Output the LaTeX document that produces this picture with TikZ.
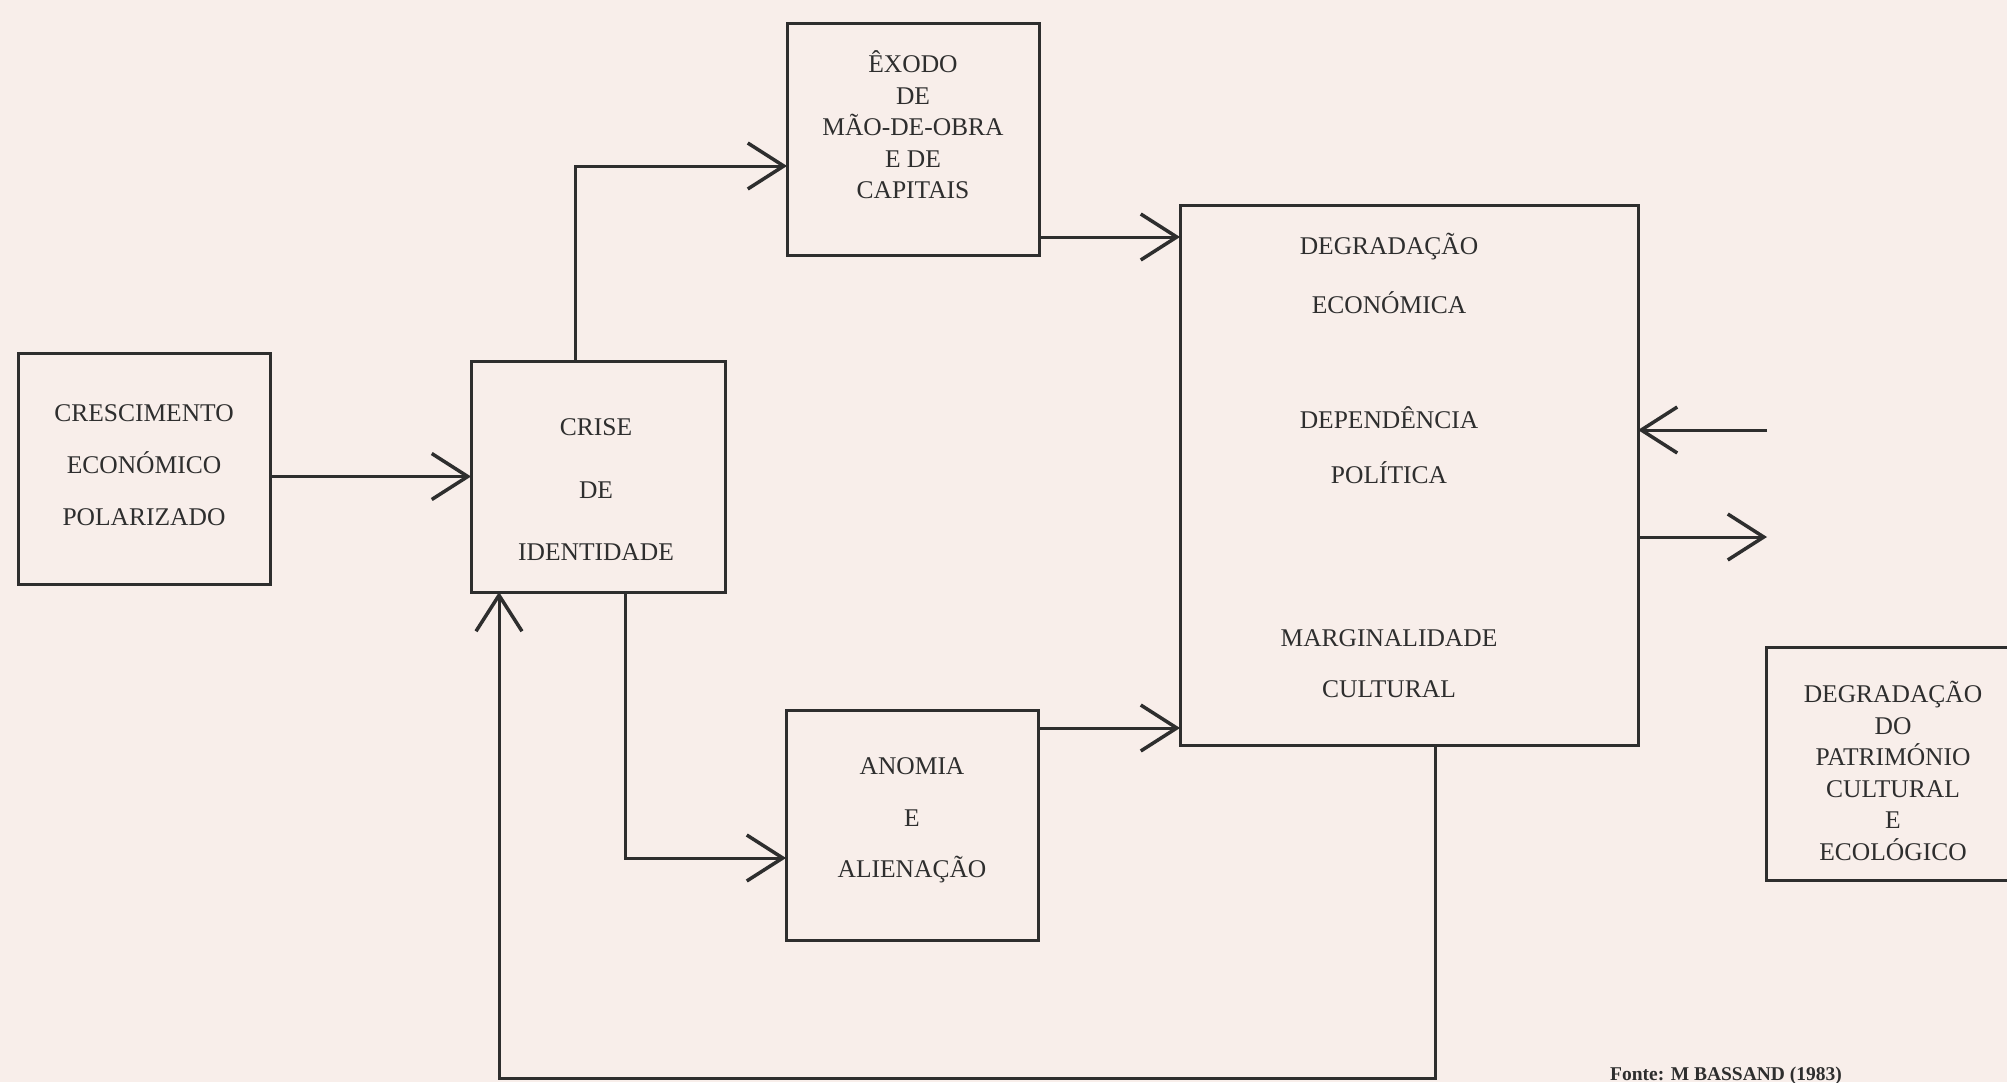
\documentclass[tikz,border=0pt]{standalone}
\usepackage{fontspec}
\setmainfont{Liberation Serif}
\usetikzlibrary{arrows.meta,calc}
\definecolor{paper}{HTML}{F8EEEA}
\definecolor{ink}{HTML}{2E2E2E}
\begin{document}
\begin{tikzpicture}[x=1pt,y=-1pt,
  box/.style={draw=ink, line width=3pt, inner sep=0pt, outer sep=0pt, rectangle},
  lbl/.style={anchor=base, inner sep=0pt, text=ink, font=\fontsize{25.5}{30}\selectfont},
  link/.style={draw=ink, line width=3pt, -{Straight Barb[length=36pt,width=46pt,line width=3.5pt]}}
]
\fill[paper] (0,0) rectangle (2007,1082);
\useasboundingbox (0,0) rectangle (2007,1082);

% boxes
\node[box, minimum width=252pt, minimum height=231pt] (cres) at (144,468.5) {};
\node[box, minimum width=254pt, minimum height=231pt] (crise) at (598,476.5) {};
\node[box, minimum width=252pt, minimum height=232pt] (exodo) at (913,139) {};
\node[box, minimum width=458pt, minimum height=540pt] (degr) at (1409,475) {};
\node[box, minimum width=252pt, minimum height=230pt] (anom) at (912,825) {};
\node[box, minimum width=264pt, minimum height=233pt] (patr) at (1898,763.5) {};

% labels
\foreach \t [count=\i] in {CRESCIMENTO,ECONÓMICO,POLARIZADO}
  \node[lbl] (cresT\i) at (144,{421.5+(\i-1)*52}) {\t};
\foreach \t [count=\i] in {CRISE,DE,IDENTIDADE}
  \node[lbl] (criseT\i) at (596,{435.5+(\i-1)*62.5}) {\t};
\foreach \t [count=\i] in {ÊXODO,DE,MÃO-DE-OBRA,E DE,CAPITAIS}
  \node[lbl] (exodoT\i) at (913,{72.5+(\i-1)*31.5}) {\t};
\foreach \t/\yy [count=\i] in {DEGRADAÇÃO/254.5,ECONÓMICA/313.5,DEPENDÊNCIA/428.5,POLÍTICA/483.5,MARGINALIDADE/646.5,CULTURAL/697.5}
  \node[lbl] (degrT\i) at (1389,\yy) {\t};
\foreach \t/\yy [count=\i] in {ANOMIA/774.5,E/826.5,ALIENAÇÃO/877.5}
  \node[lbl] (anomT\i) at (912,\yy) {\t};
\foreach \t [count=\i] in {DEGRADAÇÃO,DO,PATRIMÓNIO,CULTURAL,E,ECOLÓGICO}
  \node[lbl] (patrT\i) at (1893,{702.5+(\i-1)*31.5}) {\t};

\node[anchor=base, inner sep=0pt, text=ink, font=\fontsize{19.5}{22}\selectfont\bfseries] (fonte) at (1726,1080) {Fonte: M BASSAND (1983)};

% connectors
\coordinate (exOut) at ($(exodo.south east)+(0,-18)$);
\coordinate (anOut) at ($(anom.north east)+(0,18)$);
\draw[link] (cres.east |- crise.west) -- (crise.west);
\draw[link] ($(crise.north west)+(104,0)$) |- ($(exodo.west)+(0,27)$);
\draw[link] (exOut) -- (degr.west |- exOut);
\draw[link] ($(crise.south west)+(154,0)$) |- ($(anom.west)+(0,33)$);
\draw[link] (anOut) -- (degr.west |- anOut);
\draw[link] ($(degr.south)+(26,0)$) -- ++(0,333) -| ($(crise.south)+(-99,0)$);

\coordinate (inS) at (1767,430);
\coordinate (outE) at (1767,537);
\draw[link] (inS) -- (degr.east |- inS);
\draw[link] (degr.east |- outE) -- (outE);
\end{tikzpicture}
\end{document}
